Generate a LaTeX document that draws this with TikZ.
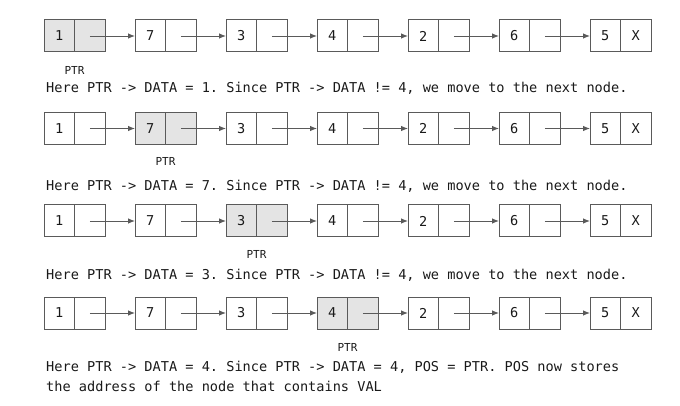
\documentclass[tikz,border=0pt]{standalone}
\usepackage{fontspec}
\setmonofont{DejaVu Sans Mono}
\usetikzlibrary{arrows.meta}
\definecolor{boxline}{HTML}{5A5A5A}
\definecolor{hifill}{HTML}{E4E4E4}
\begin{document}
\begin{tikzpicture}[x=1pt,y=-1pt,
  every node/.style={font=\ttfamily\fontsize{13.6}{16}\selectfont, text=black!90},
  cell/.style={draw=boxline, line width=1pt, minimum width=30.5pt, minimum height=32pt, inner sep=0pt, outer sep=0pt, anchor=west},
  hicell/.style={cell, fill=hifill},
  link/.style={draw=boxline, line width=0.9pt, -{Latex[length=7pt,width=5.5pt]}},
  caption/.style={anchor=west, inner sep=0pt},
  ptrlabel/.style={inner sep=0pt, font=\ttfamily\fontsize{11}{13}\selectfont}]
\useasboundingbox (0,0) rectangle (680,406);
\def\vals{{1,7,3,4,2,6,5}}
\foreach \r/\yc/\hi in {1/36/0, 2/128.5/1, 3/221/2, 4/313/3} {
  \foreach \i in {0,...,6} {
    \pgfmathsetmacro{\xs}{44+91*\i}
    \pgfmathtruncatemacro{\v}{\vals[\i]}
    \ifnum\i=\hi
      \node[hicell] (d\r-\i) at (\xs,\yc) {\v};
      \node[hicell, anchor=west] (p\r-\i) at (d\r-\i.east) {\ifnum\i=6 X\fi};
    \else
      \node[cell] (d\r-\i) at (\xs,\yc) {\v};
      \node[cell, anchor=west] (p\r-\i) at (d\r-\i.east) {\ifnum\i=6 X\fi};
    \fi
  }
  \foreach \i [evaluate=\i as \j using int(\i+1)] in {0,...,5} {
    \draw[link] (p\r-\i.center) -- (d\r-\j.west);
  }
}
\node[ptrlabel] (ptr1) at (d1-0.east |- 0,70) {PTR};
\node[ptrlabel] (ptr2) at (d2-1.east |- 0,161) {PTR};
\node[ptrlabel] (ptr3) at (d3-2.east |- 0,254) {PTR};
\node[ptrlabel] (ptr4) at (d4-3.east |- 0,347) {PTR};
\node[caption] (t1) at (46,88) {Here PTR -> DATA = 1. Since PTR -> DATA != 4, we move to the next node.};
\node[caption] (t2) at (46,186) {Here PTR -> DATA = 7. Since PTR -> DATA != 4, we move to the next node.};
\node[caption] (t3) at (46,275) {Here PTR -> DATA = 3. Since PTR -> DATA != 4, we move to the next node.};
\node[caption] (t4) at (46,367) {Here PTR -> DATA = 4. Since PTR -> DATA = 4, POS = PTR. POS now stores};
\node[caption] (t5) at (46,386) {the address of the node that contains VAL};
\end{tikzpicture}
\end{document}
